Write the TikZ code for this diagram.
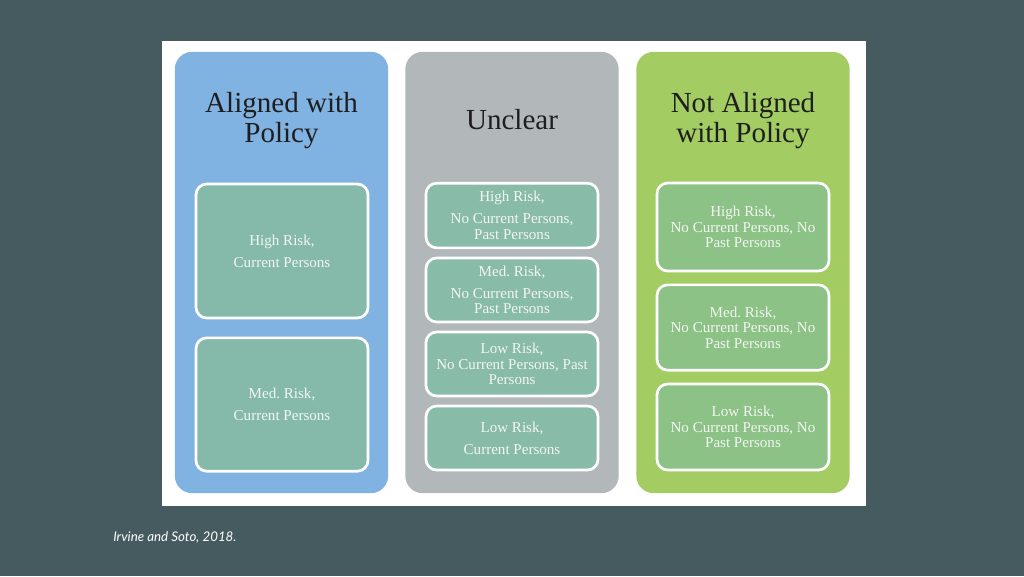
\documentclass[tikz,border=0pt]{standalone}
\usepackage{fontspec}
\setmainfont{Liberation Serif}
\newfontfamily\capfont{Lato}
\frenchspacing
\definecolor{bgdark}{HTML}{465B5F}
\definecolor{colblue}{HTML}{80B3E1}
\definecolor{colgray}{HTML}{B2B8BA}
\definecolor{colgreen}{HTML}{A3CD63}
\definecolor{inblue}{HTML}{85BAAA}
\definecolor{ingray}{HTML}{89BBA9}
\definecolor{ingreen}{HTML}{8CC286}
\definecolor{hdtext}{HTML}{1E1E1E}
\definecolor{intext}{HTML}{F2F6F2}
\tikzset{
  column/.style={rounded corners=13pt, minimum width=160pt, minimum height=331pt, inner sep=0pt},
  inbox/.style={draw=white, line width=2pt, rounded corners=8pt, minimum width=129pt, inner sep=0pt,
    text=intext, align=center, font=\fontsize{11.3}{11.6}\selectfont\frenchspacing},
  header/.style={text=hdtext, align=center, font=\fontsize{21.8}{22.5}\selectfont},
}
\begin{document}
\begin{tikzpicture}[x=0.75pt,y=-0.75pt]
\useasboundingbox (0,0) rectangle (1024,576);
\fill[bgdark] (0,0) rectangle (1024,576);
\fill[white] (162,41) rectangle (866,506);
% columns
\node[column, fill=colblue] (c1) at (281.5,272.5) {};
\node[column, fill=colgray] (c2) at (512,272.5) {};
\node[column, fill=colgreen] (c3) at (743,272.5) {};
% headers
\node[header] (h1) at (281.5,121) {Aligned with\\Policy};
\node[header] (h2) at (512,120) {Unclear};
\node[header] (h3) at (743,121) {Not Aligned\\with Policy};
% blue boxes
\node[inbox, fill=inblue, minimum height=100.5pt] (a1) at (282,251) {High Risk,\\[5pt]Current Persons};
\node[inbox, fill=inblue, minimum height=100pt] (a2) at (282,404.5) {Med. Risk,\\[5pt]Current Persons};
% gray boxes
\node[inbox, fill=ingray, minimum height=48.5pt] (u1) at (512,215.5) {High Risk,\\[5pt]No Current Persons,\\Past Persons};
\node[inbox, fill=ingray, minimum height=48pt] (u2) at (512,290) {Med. Risk,\\[5pt]No Current Persons,\\Past Persons};
\node[inbox, fill=ingray, minimum height=48pt] (u3) at (512,364) {Low Risk,\\No Current Persons, Past\\Persons};
\node[inbox, fill=ingray, minimum height=48pt] (u4) at (512,438) {Low Risk,\\[5pt]Current Persons};
% green boxes
\node[inbox, fill=ingreen, minimum height=66pt] (n1) at (743,227) {High Risk,\\No Current Persons, No\\Past Persons};
\node[inbox, fill=ingreen, minimum height=64pt] (n2) at (743,327.5) {Med. Risk,\\No Current Persons, No\\Past Persons};
\node[inbox, fill=ingreen, minimum height=64.5pt] (n3) at (743,427) {Low Risk,\\No Current Persons, No\\Past Persons};
% caption
\node[anchor=west, text=white, font=\capfont\itshape\fontsize{10}{12}\selectfont, inner sep=0pt] (cap) at (113,537.5) {Irvine and Soto, 2018.};
\end{tikzpicture}
\end{document}
